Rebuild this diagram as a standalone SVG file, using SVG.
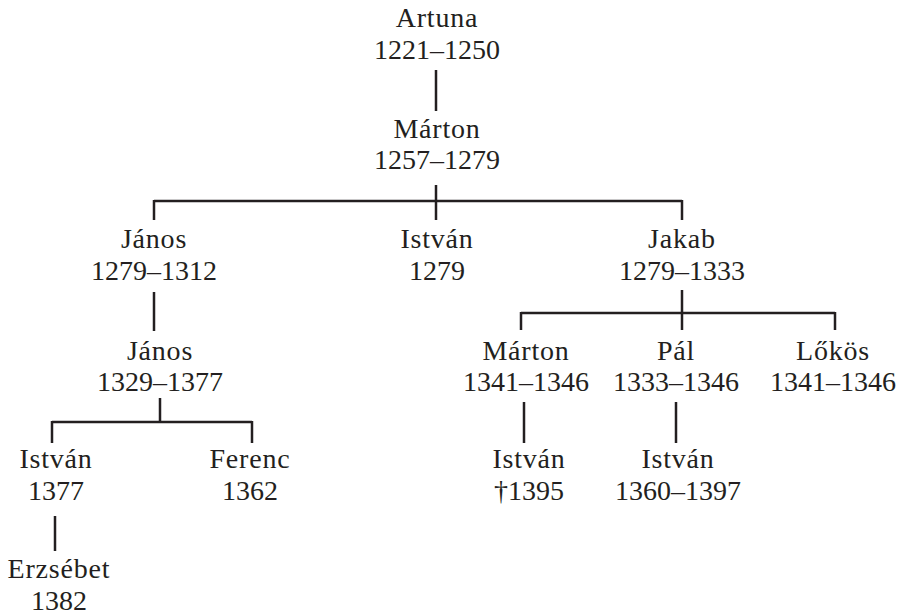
<svg xmlns="http://www.w3.org/2000/svg" width="902" height="616" viewBox="0 0 902 616">
<style>
text{font-family:'Liberation Serif','Times New Roman',serif;font-size:28px;fill:#231f20;text-anchor:middle}
.n{letter-spacing:0.8px}
.c line{stroke:#231f20;stroke-width:2.5;fill:none}
</style>
<rect width="902" height="616" fill="#fff"/>
<g class="c" id="connectors">
<line x1="436" y1="70" x2="436" y2="111"/>
<line x1="436" y1="185" x2="436" y2="220"/>
<line x1="154" y1="201" x2="682" y2="201"/>
<line x1="154" y1="200" x2="154" y2="220"/>
<line x1="682" y1="200" x2="682" y2="220"/>
<line x1="154" y1="292" x2="154" y2="331"/>
<line x1="160" y1="398" x2="160" y2="422"/>
<line x1="52" y1="422" x2="252" y2="422"/>
<line x1="52" y1="421" x2="52" y2="443"/>
<line x1="252" y1="421" x2="252" y2="443"/>
<line x1="55" y1="516" x2="55" y2="551"/>
<line x1="682" y1="290" x2="682" y2="330"/>
<line x1="521" y1="313" x2="835" y2="313"/>
<line x1="521" y1="312" x2="521" y2="330"/>
<line x1="835" y1="312" x2="835" y2="330"/>
<line x1="524" y1="402" x2="524" y2="443"/>
<line x1="676" y1="402" x2="676" y2="443"/>
</g>
<g id="artuna"><text class="n" x="437" y="27">Artuna</text><text x="437" y="59">1221–1250</text></g>
<g id="marton1"><text class="n" x="437" y="138">Márton</text><text x="437" y="169">1257–1279</text></g>
<g id="janos1"><text class="n" x="154" y="248">János</text><text x="154" y="280">1279–1312</text></g>
<g id="istvan1"><text class="n" x="437" y="248">István</text><text x="437" y="280">1279</text></g>
<g id="jakab"><text class="n" x="682" y="248">Jakab</text><text x="682" y="280">1279–1333</text></g>
<g id="janos2"><text class="n" x="160" y="360">János</text><text x="160" y="391">1329–1377</text></g>
<g id="marton2"><text class="n" x="526" y="360">Márton</text><text x="526" y="391">1341–1346</text></g>
<g id="pal"><text class="n" x="676" y="360">Pál</text><text x="676" y="391">1333–1346</text></g>
<g id="lokos"><text class="n" x="833" y="360">Lőkös</text><text x="833" y="391">1341–1346</text></g>
<g id="istvan2"><text class="n" x="56" y="468">István</text><text x="56" y="500">1377</text></g>
<g id="ferenc"><text class="n" x="250" y="468">Ferenc</text><text x="250" y="500">1362</text></g>
<g id="istvan3"><text class="n" x="529" y="468">István</text><text x="529" y="500">†1395</text></g>
<g id="istvan4"><text class="n" x="678" y="468">István</text><text x="678" y="500">1360–1397</text></g>
<g id="erzsebet"><text class="n" x="59" y="578">Erzsébet</text><text x="59" y="610">1382</text></g>
</svg>
